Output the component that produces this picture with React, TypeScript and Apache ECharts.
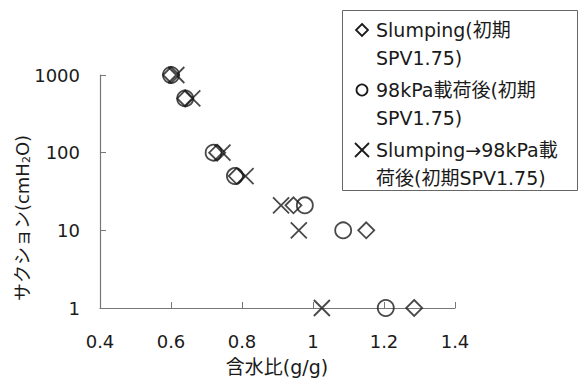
import React, { useEffect, useRef } from "react";
import * as echarts from "echarts";

const xTicks = [0.4, 0.6, 0.8, 1.0, 1.2, 1.4];
const yTicks = [1, 10, 100, 1000];

const slumping: [number, number][] = [
  [0.6, 1000], [0.64, 500], [0.73, 100], [0.785, 50], [0.945, 21], [1.15, 10], [1.285, 1],
];
const loaded: [number, number][] = [
  [0.6, 1000], [0.64, 500], [0.72, 100], [0.78, 50], [0.977, 21], [1.085, 10], [1.205, 1],
];
const slumpThenLoad: [number, number][] = [
  [0.615, 1000], [0.66, 500], [0.745, 100], [0.81, 50], [0.91, 21], [0.96, 10], [1.025, 1],
];

const names = [
  "Slumping(初期SPV1.75)",
  "98kPa載荷後(初期SPV1.75)",
  "Slumping→98kPa載荷後(初期SPV1.75)",
];
const legendLines = [
  ["Slumping(初期", "SPV1.75)"],
  ["98kPa載荷後(初期", "SPV1.75)"],
  ["Slumping→98kPa載", "荷後(初期SPV1.75)"],
];

const FONT = "DejaVu Sans, Noto Sans CJK JP, sans-serif";
const INK = "#1a1a1a";
const CROSS = "path://M0,0L10,10M10,0L0,10";

export default function App() {
  const ref = useRef<HTMLDivElement>(null);
  useEffect(() => {
    if (!ref.current) return;
    document.body.style.margin = "0";
    const chart = echarts.init(ref.current, undefined, { renderer: "svg" });
    const markerStyle = {
      color: "rgba(0,0,0,0)",
      borderColor: INK,
      borderWidth: 1.8,
    };
    const legendGraphics: any[] = [
      {
        type: "rect",
        shape: { x: 342.5, y: 10.5, width: 235, height: 180 },
        style: { fill: "#fff", stroke: "#666", lineWidth: 1 },
      },
    ];
    const rowY = [30, 90, 150];
    legendLines.forEach((lines, i) => {
      const cy = rowY[i];
      const mx = 362;
      if (i === 0) {
        legendGraphics.push({
          type: "polygon",
          shape: { points: [[mx, cy - 6], [mx + 6, cy], [mx, cy + 6], [mx - 6, cy]] },
          style: { fill: "none", stroke: INK, lineWidth: 1.8 },
        });
      } else if (i === 1) {
        legendGraphics.push({
          type: "circle",
          shape: { cx: mx, cy, r: 5.5 },
          style: { fill: "none", stroke: INK, lineWidth: 1.8 },
        });
      } else {
        legendGraphics.push(
          { type: "line", shape: { x1: mx - 7, y1: cy - 7, x2: mx + 7, y2: cy + 7 }, style: { stroke: INK, lineWidth: 1.8 } },
          { type: "line", shape: { x1: mx + 7, y1: cy - 7, x2: mx - 7, y2: cy + 7 }, style: { stroke: INK, lineWidth: 1.8 } }
        );
      }
      lines.forEach((t, j) => {
        legendGraphics.push({
          type: "text",
          x: 376,
          y: cy + j * 28,
          style: {
            text: t,
            fill: INK,
            font: `19px ${FONT}`,
            textAlign: "left",
            textVerticalAlign: "middle",
          },
        });
      });
    });

    chart.setOption({
      animation: false,
      backgroundColor: "#fff",
      grid: { left: 100, top: 75, right: 125, bottom: 72, containLabel: false },
      xAxis: {
        type: "value",
        min: 0.4,
        max: 1.4,
        interval: 0.2,
        axisLine: { show: true, lineStyle: { color: "#777", width: 1.2 } },
        axisTick: { show: true, inside: true, length: 6, lineStyle: { color: "#777" } },
        splitLine: { show: false },
        axisLabel: {
          margin: 24,
          color: INK,
          fontSize: 18,
          fontFamily: FONT,
          formatter: (v: number) => String(+v.toFixed(1)),
        },
      },
      yAxis: {
        type: "log",
        logBase: 10,
        min: 1,
        max: 1000,
        axisLine: { show: true, lineStyle: { color: "#777", width: 1.2 } },
        axisTick: { show: true, inside: true, length: 6, lineStyle: { color: "#777" } },
        minorTick: { show: false },
        splitLine: { show: false },
        axisLabel: {
          margin: 20,
          color: INK,
          fontSize: 18,
          fontFamily: FONT,
          formatter: (v: number) => (yTicks.includes(Math.round(v)) ? String(Math.round(v)) : ""),
        },
      },
      series: [
        {
          name: names[0],
          type: "scatter",
          data: slumping,
          symbol: "diamond",
          symbolSize: [16, 16],
          itemStyle: markerStyle,
        },
        {
          name: names[1],
          type: "scatter",
          data: loaded,
          symbol: "circle",
          symbolSize: 16,
          itemStyle: markerStyle,
        },
        {
          name: names[2],
          type: "scatter",
          data: slumpThenLoad,
          symbol: CROSS,
          symbolSize: 16,
          itemStyle: markerStyle,
        },
      ],
      graphic: [
        ...legendGraphics,
        {
          type: "text",
          x: 277,
          y: 367,
          style: {
            text: "含水比(g/g)",
            fill: INK,
            font: `19px ${FONT}`,
            textAlign: "center",
            textVerticalAlign: "middle",
          },
        },
        {
          type: "text",
          x: 22,
          y: 218,
          rotation: Math.PI / 2,
          style: {
            text: "{a|サクション(cmH}{s|2}{a|O)}",
            fill: INK,
            textAlign: "center",
            textVerticalAlign: "middle",
            rich: {
              a: { fontSize: 18, fontFamily: FONT, fill: INK },
              s: { fontSize: 11, fontFamily: FONT, fill: INK, padding: [8, 0, 0, 0] },
            },
          },
        },
      ],
    });
    return () => chart.dispose();
  }, []);
  return <div ref={ref} style={{ width: 580, height: 380 }} />;
}
